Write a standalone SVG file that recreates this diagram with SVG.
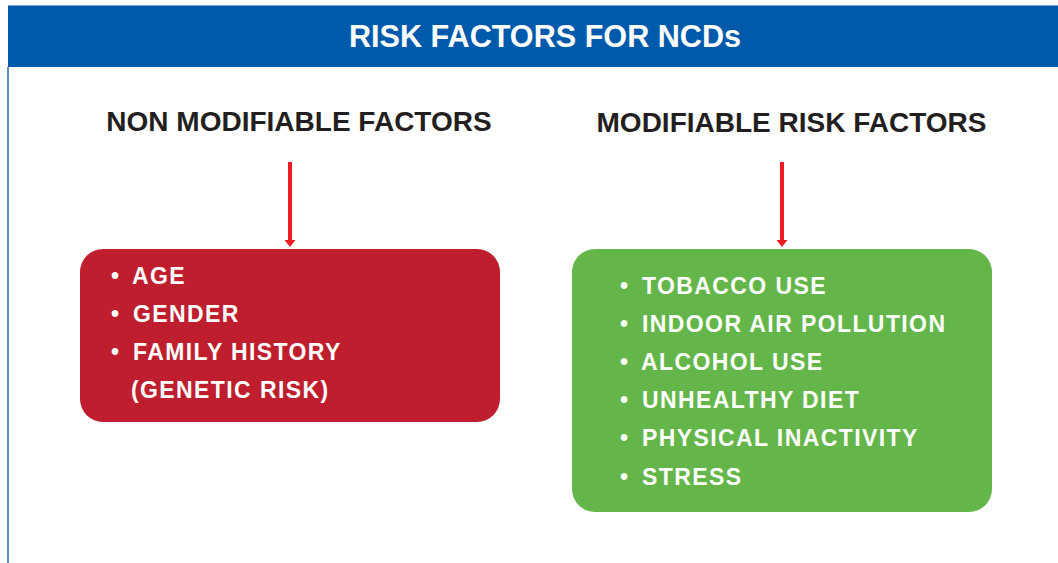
<svg xmlns="http://www.w3.org/2000/svg" width="1058" height="563" viewBox="0 0 1058 563">
<style>
.title{font-family:"Liberation Sans",Arial,sans-serif;font-weight:bold;font-size:30.6px;fill:#ffffff}
.head{font-family:"Liberation Sans",Arial,sans-serif;font-weight:bold;font-size:28px;fill:#231f20}
.item{font-family:"Liberation Sans",Arial,sans-serif;font-weight:bold;font-size:23px;fill:#ffffff;letter-spacing:1.4px}
.bul{font-family:"Liberation Sans",Arial,sans-serif;font-weight:bold;font-size:23px;fill:#ffffff;text-anchor:middle}
.arr{stroke:#ed1c24;stroke-width:4;fill:none}
</style>
<defs>
<marker id="ah" markerWidth="8" markerHeight="11" refX="0.5" refY="5.5" orient="auto" markerUnits="userSpaceOnUse" viewBox="0 0 8 11">
<path d="M0,0 L7,5.5 L0,11 Z" fill="#ed1c24"/>
</marker>
</defs>
<rect width="1058" height="563" fill="#ffffff"/>
<g id="header">
<rect x="8" y="5" width="1050" height="62" fill="#005aab"/>
<line x1="8" y1="5.5" x2="1058" y2="5.5" stroke="#7fa6cf" stroke-width="1"/>
<line x1="8" y1="67" x2="8" y2="563" stroke="#2a6db5" stroke-width="1.5"/>
<text class="title" x="545" y="47" text-anchor="middle">RISK FACTORS FOR NCDs</text>
</g>
<g id="non-modifiable-heading">
<text class="head" x="299" y="131" text-anchor="middle">NON MODIFIABLE FACTORS</text>
</g>
<g id="modifiable-heading">
<text class="head" x="791.5" y="132" text-anchor="middle">MODIFIABLE RISK FACTORS</text>
</g>
<g id="connectors">
<line class="arr" x1="290" y1="162" x2="290" y2="240.5" marker-end="url(#ah)"/>
<line class="arr" x1="782" y1="162" x2="782" y2="240.5" marker-end="url(#ah)"/>
</g>
<g id="non-modifiable-box">
<rect x="80" y="249" width="420" height="173" rx="23" fill="#be1e2d"/>
<text class="bul" x="115" y="284">•</text>
<text class="item" x="132" y="284">AGE</text>
<text class="bul" x="115" y="322">•</text>
<text class="item" x="133" y="322">GENDER</text>
<text class="bul" x="115" y="360">•</text>
<text class="item" x="133" y="360">FAMILY HISTORY</text>
<text class="item" x="131" y="398">(GENETIC RISK)</text>
</g>
<g id="modifiable-box">
<rect x="572" y="249" width="420" height="263" rx="23" fill="#65b64a"/>
<text class="bul" x="624" y="294">•</text>
<text class="item" x="642" y="294">TOBACCO USE</text>
<text class="bul" x="624" y="332">•</text>
<text class="item" x="642" y="332">INDOOR AIR POLLUTION</text>
<text class="bul" x="624" y="370">•</text>
<text class="item" x="641" y="370">ALCOHOL USE</text>
<text class="bul" x="624" y="408">•</text>
<text class="item" x="642" y="408">UNHEALTHY DIET</text>
<text class="bul" x="624" y="446">•</text>
<text class="item" x="642" y="446">PHYSICAL INACTIVITY</text>
<text class="bul" x="624" y="485">•</text>
<text class="item" x="642" y="485">STRESS</text>
</g>
</svg>
